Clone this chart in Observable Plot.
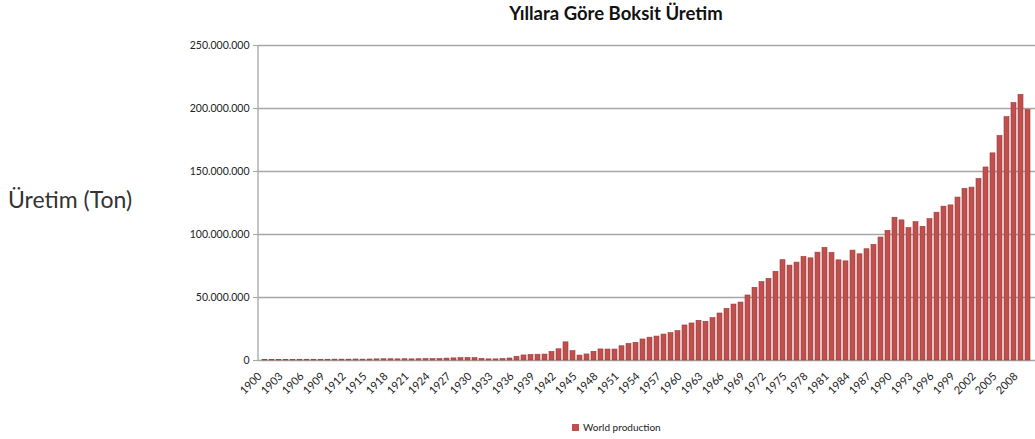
<!DOCTYPE html>
<html>
<head>
<meta charset="utf-8">
<script src="https://cdn.jsdelivr.net/npm/d3@7"></script>
<script src="https://cdn.jsdelivr.net/npm/@observablehq/plot@0.6"></script>
<style>
  html, body { margin: 0; padding: 0; background: #fff; }
  body { width: 1035px; height: 439px; overflow: hidden; position: relative; font-family: Lato, "Open Sans", sans-serif; }
  #title { position: absolute; left: 416px; width: 400px; top: 2px; text-align: center; font-size: 18.5px; font-weight: bold; color: #111; }
  #ylabel { position: absolute; left: 8px; top: 185px; font-size: 23px; color: #333; }
  #legend { position: absolute; left: 572px; top: 421px; font-size: 10px; color: #222; display: flex; align-items: center; }
  #legend span.sw { display: inline-block; width: 7px; height: 7px; background: #C0504D; margin-right: 4px; }
  #chart { position: absolute; left: 0; top: 0; }
</style>
</head>
<body>
<div id="chart"></div>
<div id="title">Yıllara Göre Boksit Üretim</div>
<div id="ylabel">Üretim (Ton)</div>
<div id="legend"><span class="sw"></span><span>World production</span></div>
<script>
// Categories: years 1900–2009
const years = [
  1900,1901,1902,1903,1904,1905,1906,1907,1908,1909,
  1910,1911,1912,1913,1914,1915,1916,1917,1918,1919,
  1920,1921,1922,1923,1924,1925,1926,1927,1928,1929,
  1930,1931,1932,1933,1934,1935,1936,1937,1938,1939,
  1940,1941,1942,1943,1944,1945,1946,1947,1948,1949,
  1950,1951,1952,1953,1954,1955,1956,1957,1958,1959,
  1960,1961,1962,1963,1964,1965,1966,1967,1968,1969,
  1970,1971,1972,1973,1974,1975,1976,1977,1978,1979,
  1980,1981,1982,1983,1984,1985,1986,1987,1988,1989,
  1990,1991,1992,1993,1994,1995,1996,1997,1998,1999,
  2000,2001,2002,2003,2004,2005,2006,2007,2008,2009
];
// World production, million tonnes
const production1900s = [0.5,0.5,0.5,0.5,0.5,0.6,0.6,0.6,0.6,0.6];
const production1910s = [0.7,0.7,0.7,0.8,0.7,0.8,0.9,1.0,1.0,0.9];
const production1920s = [1.0,0.9,1.0,1.1,1.1,1.2,1.5,1.7,1.9,2.1];
const production1930s = [1.9,1.3,0.9,0.9,1.2,1.6,2.9,4.0,4.4,4.6];
const production1940s = [4.7,6.8,8.9,14.4,7.4,3.9,4.8,6.9,8.8,8.7];
const production1950s = [8.7,11.3,13.1,14.0,16.7,18.1,19.0,20.6,21.7,23.3];
const production1960s = [27.8,29.4,31.5,30.7,33.6,37.3,41.0,44.4,46.0,51.6];
const production1970s = [57.7,62.2,64.8,70.4,79.6,75.3,77.7,82.2,81.1,85.6];
const production1980s = [89.4,85.4,79.5,78.7,87.2,84.3,88.3,91.8,97.6,102.9];
const production1990s = [113.3,111.2,105.1,109.8,106.1,112.2,117.3,122.1,123.1,129.3];
const production2000s = [136.2,137.2,144.1,153.2,164.4,178.2,193.1,204.3,210.9,198.9];

const yTicks = [0, 50000000, 100000000, 150000000, 200000000, 250000000];
const xTickYears = [1900,1903,1906,1909,1912,1915,1918,1921,1924,1927,1930,1933,1936,1939,1942,1945,1948,1951,1954,1957,1960,1963,1966,1969,1972,1975,1978,1981,1984,1987,1990,1993,1996,1999,2002,2005,2008];

const production = [].concat(production1900s, production1910s, production1920s, production1930s,
  production1940s, production1950s, production1960s, production1970s, production1980s,
  production1990s, production2000s);
const data = years.map((year, i) => ({year, value: production[i] * 1e6}));

const fmt = d => d3.format(",")(d).replace(/,/g, ".");

const leftLine = (index, scales, values, dimensions) => {
  const y0 = scales.y(0), y1 = scales.y(250000000);
  return d3.create("svg:line")
    .attr("x1", dimensions.marginLeft).attr("x2", dimensions.marginLeft)
    .attr("y1", y0 + 0.5).attr("y2", y1)
    .attr("stroke", "#a6a6a6").attr("stroke-width", 1.3)
    .node();
};

const chart = Plot.plot({
  width: 1035,
  height: 410,
  marginLeft: 258,
  marginRight: 0,
  marginTop: 45,
  marginBottom: 50,
  style: { fontFamily: "Lato, 'Open Sans', sans-serif", color: "#222", background: "transparent" },
  x: { type: "band", domain: years, range: [257.6, 1035], paddingInner: 0.3, paddingOuter: 0.15 },
  y: { domain: [0, 250000000], range: [360, 45] },
  marks: [
    Plot.gridY(yTicks, { stroke: "#a6a6a6", strokeOpacity: 1, strokeWidth: 1.3 }),
    Plot.barY(data, { x: "year", y: "value", fill: "#C0504D", stroke: "#9c3b39", strokeWidth: 0.6 }),
    leftLine,
    Plot.axisY(yTicks, { tickFormat: fmt, tickSize: 5, tickPadding: 4, stroke: "#a6a6a6", fill: "#222", fontSize: 10.5, label: null }),
    Plot.axisX(xTickYears, { tickFormat: d => String(d), tickRotate: -45, tickSize: 0, tickPadding: 14, dx: -5, fill: "#222", fontSize: 11, label: null })
  ]
});
document.getElementById("chart").appendChild(chart);
</script>
</body>
</html>
